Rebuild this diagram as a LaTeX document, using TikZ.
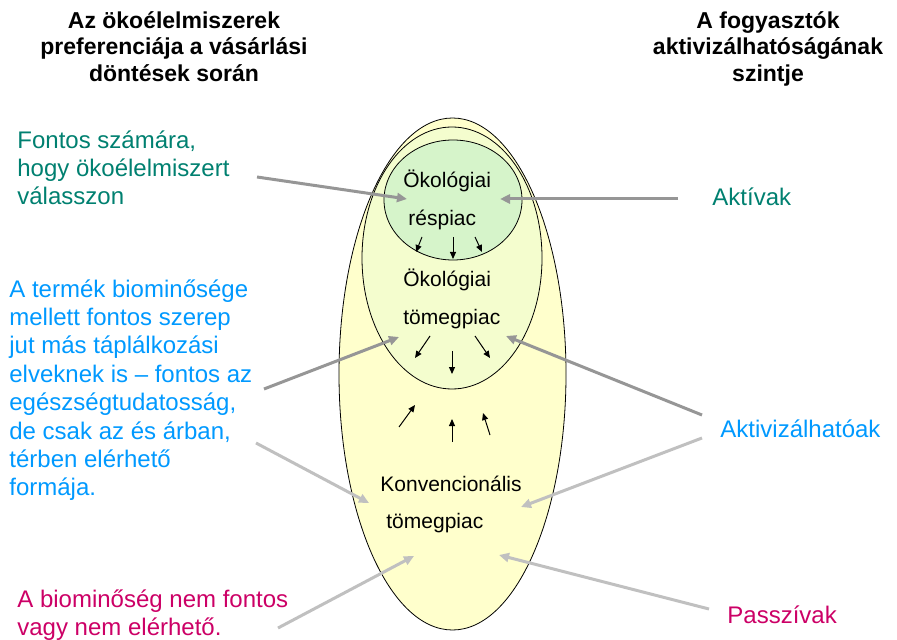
\documentclass[tikz,border=0pt]{standalone}
\usepackage{fontspec}
\setmainfont{Liberation Sans}
\usetikzlibrary{arrows.meta}

\definecolor{tealtxt}{RGB}{0,128,112}
\definecolor{bluetxt}{RGB}{0,153,255}
\definecolor{magtxt}{RGB}{204,0,102}
\definecolor{darkgrey}{RGB}{150,150,150}
\definecolor{lightgrey}{RGB}{192,192,192}
\definecolor{paleyellow}{RGB}{255,255,204}
\definecolor{palemint}{RGB}{244,253,206}
\definecolor{mint}{RGB}{214,244,202}

\begin{document}
\begin{tikzpicture}[x=0.5pt, y=-0.5pt, every node/.style={inner sep=0pt, font=\fontsize{12}{14.2}\selectfont},
	head/.style={font=\fontsize{11.5}{13.3}\selectfont\bfseries, align=center, anchor=north},
	sidetext/.style={align=left, anchor=north west},
	market/.style={font=\fontsize{10.5}{12}\selectfont, anchor=base west},
	greyarr/.style={-{Triangle[length=5pt, width=4.5pt]}, line width=1.5pt, draw=darkgrey},
	lightarr/.style={-{Triangle[length=5pt, width=4.5pt]}, line width=1.5pt, draw=lightgrey},
	smallarr/.style={-{Triangle[length=3.5pt, width=3pt]}, line width=0.5pt}]
	\useasboundingbox (0,0) rectangle (897,640);
	% markets
	\draw[fill=paleyellow, line width=0.4pt] (452.5,374) ellipse [x radius=113.5, y radius=256];
	\draw[fill=palemint, line width=0.4pt] (452,258) ellipse [x radius=90, y radius=131];
	\draw[fill=mint, line width=0.4pt] (453,200) ellipse [x radius=69, y radius=60];
	\node[market] (res1) at (403,188) {Ökológiai};
	\node[market] (res2) at (408,226) {réspiac};
	\node[market] (tom1) at (403,287) {Ökológiai};
	\node[market] (tom2) at (403,325) {tömegpiac};
	\node[market] (konv1) at (380,491) {Konvencionális};
	\node[market] (konv2) at (386,528) {tömegpiac};
	% small arrows between the markets
	\foreach \xa/\ya/\xb/\yb in {422/237/416/252, 453/237/453/259, 475/237/482/252,
		430/336/415/358, 452/351/452/374, 475/336/490/358,
		399/427/415/405, 452/442/452/419, 490/435/483/413}
		\draw[smallarr] (\xa,\ya) -- (\xb,\yb);
	% headings
	\node[head] (lefthead) at (174,11) {Az ökoélelmiszerek\\preferenciája a vásárlási\\döntések során};
	\node[head] (righthead) at (768,11) {A fogyasztók\\aktivizálhatóságának\\szintje};
	% left side
	\node[sidetext, text=tealtxt] (fontos) at (17,130) {Fontos számára,\\hogy ökoélelmiszert\\válasszon};
	\node[sidetext, text=bluetxt] (biomin) at (9,279) {A termék biominősége\\mellett fontos szerep\\jut más táplálkozási\\elveknek is -- fontos az\\egészségtudatosság,\\de csak az és árban,\\térben elérhető\\formája.};
	\node[sidetext, text=magtxt] (nemfontos) at (17,589) {A biominőség nem fontos\\vagy nem elérhető.};
	% right side
	\node[anchor=base west, text=tealtxt] (aktiv) at (712,206) {Aktívak};
	\node[anchor=base west, text=bluetxt] (aktivizal) at (720,437) {Aktivizálhatóak};
	\node[anchor=base west, text=magtxt] (passziv) at (727,623) {Passzívak};
	% pointers
	\coordinate (fontosA) at (257,177); \coordinate (fontosB) at (407,199);
	\coordinate (aktivA) at (678,199); \coordinate (aktivB) at (500,199);
	\coordinate (biominA) at (264,389); \coordinate (biominB) at (399,337);
	\coordinate (biominC) at (256,443); \coordinate (biominD) at (369,503);
	\coordinate (aktivizalA) at (702,415); \coordinate (aktivizalB) at (506,336);
	\coordinate (aktivizalC) at (702,438); \coordinate (aktivizalD) at (521,507);
	\coordinate (nemfontosA) at (278,628); \coordinate (nemfontosB) at (414,556);
	\coordinate (passzivA) at (709,609); \coordinate (passzivB) at (499,555);
	\draw[greyarr] (fontosA) -- (fontosB);
	\draw[greyarr] (aktivA) -- (aktivB);
	\draw[greyarr] (biominA) -- (biominB);
	\draw[greyarr] (aktivizalA) -- (aktivizalB);
	\draw[lightarr] (biominC) -- (biominD);
	\draw[lightarr] (aktivizalC) -- (aktivizalD);
	\draw[lightarr] (nemfontosA) -- (nemfontosB);
	\draw[lightarr] (passzivA) -- (passzivB);
\end{tikzpicture}
\end{document}
